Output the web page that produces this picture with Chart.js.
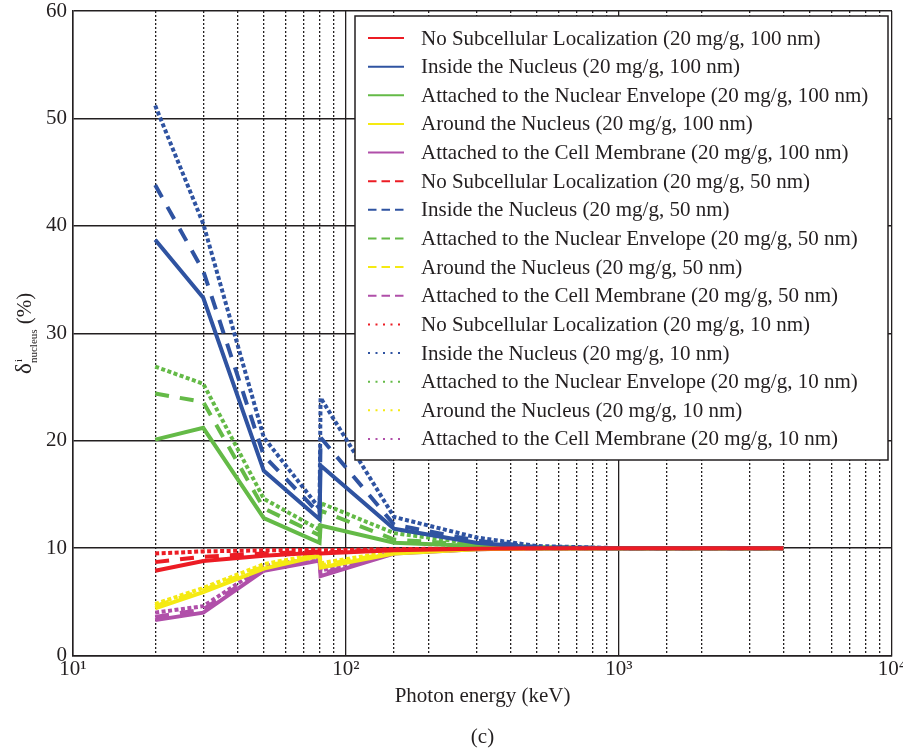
<!DOCTYPE html>
<html>
<head>
<meta charset="utf-8">
<script src="https://cdn.jsdelivr.net/npm/chart.js@4.4.0/dist/chart.umd.min.js"></script>
<style>
  html, body { margin: 0; padding: 0; background: #fff; }
  #wrap { width: 903px; height: 750px; }
</style>
</head>
<body>
<div id="wrap"><canvas id="deltaChart" width="903" height="750"></canvas></div>
<script>
// photon energies (keV); the doubled point near 80 keV is the gold K-edge
const energies = [20, 30, 50, 80, 80.7, 150, 300, 500, 1000, 4000];

const locations = [
  'No Subcellular Localization',
  'Inside the Nucleus',
  'Attached to the Nuclear Envelope',
  'Around the Nucleus',
  'Attached to the Cell Membrane'
];
const sizes = ['100 nm', '50 nm', '10 nm'];
const xTickLabels = { 10: '10¹', 100: '10²', 1000: '10³', 10000: '10⁴' };

// delta (%) per location, 100 nm particles
const noLoc100    = [7.9, 8.8, 9.3, 9.6, 9.5, 9.8, 9.95, 10, 10, 10];
const inside100   = [38.7, 33.3, 17.2, 12.7, 17.7, 11.8, 10.5, 10.05, 10, 10];
const envelope100 = [20.1, 21.2, 12.8, 10.5, 12.1, 10.5, 10.2, 10.0, 10, 10];
const around100   = [4.4, 5.9, 8.1, 9.3, 8.2, 9.5, 9.9, 10, 10, 10];
const membrane100 = [3.3, 4.0, 7.9, 8.85, 7.4, 9.5, 9.9, 10, 10, 10];

// 50 nm particles
const noLoc50    = [8.7, 9.2, 9.5, 9.7, 9.6, 9.85, 9.95, 10, 10, 10];
const inside50   = [43.8, 35.8, 18.6, 13.2, 20.3, 12.2, 10.7, 10.1, 10, 10];
const envelope50 = [24.4, 23.6, 13.7, 11.2, 13.5, 10.8, 10.3, 10.05, 10, 10];
const around50   = [4.6, 6.1, 8.3, 9.4, 8.4, 9.6, 9.9, 10, 10, 10];
const membrane50 = [3.6, 4.3, 8.1, 9.0, 7.6, 9.55, 9.9, 10, 10, 10];

// 10 nm particles
const noLoc10    = [9.5, 9.7, 9.8, 9.85, 9.8, 9.9, 10, 10, 10, 10];
const inside10   = [51.2, 40.2, 20.3, 13.7, 24.0, 12.9, 11.0, 10.2, 10, 10];
const envelope10 = [26.9, 25.3, 14.6, 11.7, 14.2, 11.4, 10.4, 10.1, 10, 10];
const around10   = [4.8, 6.3, 8.5, 9.5, 8.6, 9.7, 9.95, 10, 10, 10];
const membrane10 = [4.0, 4.6, 8.3, 9.2, 7.9, 9.6, 9.95, 10, 10, 10];

const valuesBySize = [
  [noLoc100, inside100, envelope100, around100, membrane100],
  [noLoc50, inside50, envelope50, around50, membrane50],
  [noLoc10, inside10, envelope10, around10, membrane10]
];

const locationColors = ['#ec1c24', '#2f53a1', '#64ba47', '#f5ea12', '#b04fa9'];
const lineStyles = [
  { dash: [], legendDash: [] },
  { dash: [14, 11], legendDash: [8.5, 5] },
  { dash: [4, 2.5], legendDash: [2, 5.5] }
];

const textColor = '#231f20';
const serif = '"Liberation Serif", "Times New Roman", serif';

const datasets = [];
sizes.forEach((size, s) => {
  locations.forEach((loc, l) => {
    datasets.push({
      label: loc + ' (20 mg/g, ' + size + ')',
      data: valuesBySize[s][l].map((y, i) => ({ x: energies[i], y: y })),
      borderColor: locationColors[l],
      backgroundColor: locationColors[l],
      borderWidth: 4,
      borderDash: lineStyles[s].dash,
      legendDash: lineStyles[s].legendDash,
      pointRadius: 0,
      tension: 0,
      fill: false
    });
  });
});

function isDecade(v) {
  const l = Math.log10(v);
  return Math.abs(l - Math.round(l)) < 1e-9;
}

// boxed legend in the upper right of the plot
const legendBox = {
  id: 'legendBox',
  afterDatasetsDraw(chart) {
    const { ctx, chartArea } = chart;
    const x0 = chartArea.left + 282, y0 = chartArea.top + 5;
    const w = chartArea.right - 4 - x0, h = 444;
    ctx.save();
    ctx.fillStyle = '#fff';
    ctx.fillRect(x0, y0, w, h);
    ctx.strokeStyle = textColor;
    ctx.lineWidth = 1.5;
    ctx.strokeRect(x0, y0, w, h);
    ctx.font = '21px ' + serif;
    ctx.textBaseline = 'middle';
    chart.data.datasets.forEach((ds, i) => {
      const y = y0 + 22 + i * 28.64;
      ctx.beginPath();
      ctx.setLineDash(ds.legendDash);
      ctx.strokeStyle = ds.borderColor;
      ctx.lineWidth = 2;
      ctx.moveTo(x0 + 13, y);
      ctx.lineTo(x0 + 49, y);
      ctx.stroke();
      ctx.setLineDash([]);
      ctx.fillStyle = textColor;
      ctx.fillText(ds.label, x0 + 66, y + 1);
    });
    ctx.restore();
  }
};

// y axis title with super/subscripts, plus the panel letter
const extraText = {
  id: 'extraText',
  afterDraw(chart) {
    const { ctx, chartArea } = chart;
    const cy = (chartArea.top + chartArea.bottom) / 2;
    ctx.save();
    ctx.fillStyle = textColor;
    ctx.textBaseline = 'alphabetic';
    ctx.translate(31, cy);
    ctx.rotate(-Math.PI / 2);
    ctx.font = '23px ' + serif;
    const wd = ctx.measureText('δ').width;
    ctx.font = '11px ' + serif;
    const wsub = ctx.measureText('nucleus').width;
    ctx.font = '21px ' + serif;
    const wp = ctx.measureText(' (%)').width;
    let x = -(wd + wsub + wp) / 2;
    ctx.font = '23px ' + serif;
    ctx.fillText('δ', x, 0);
    x += wd;
    ctx.font = '11px ' + serif;
    ctx.fillText('i', x + 1, -9);
    ctx.fillText('nucleus', x, 6);
    x += wsub;
    ctx.font = '21px ' + serif;
    ctx.fillText(' (%)', x, 0);
    ctx.restore();

    ctx.save();
    ctx.fillStyle = textColor;
    ctx.font = '21px ' + serif;
    ctx.textAlign = 'center';
    ctx.textBaseline = 'middle';
    ctx.fillText('(c)', (chartArea.left + chartArea.right) / 2, 737);
    ctx.restore();
  }
};

const ctx = document.getElementById('deltaChart').getContext('2d');
const deltaChart = new Chart(ctx, {
  type: 'line',
  data: { datasets: datasets },
  options: {
    responsive: false,
    animation: false,
    devicePixelRatio: 1,
    layout: { padding: { left: 0, top: 11, right: 11, bottom: 35 } },
    plugins: {
      legend: { display: false },
      tooltip: { enabled: false }
    },
    scales: {
      x: {
        type: 'logarithmic',
        min: 10,
        max: 10000,
        afterFit(scale) { scale.paddingRight = 0; },
        grid: {
          color: textColor,
          lineWidth: 1.3,
          drawTicks: false
        },
        border: {
          display: true,
          color: textColor,
          width: 1.5,
          dash: (c) => (c.tick && !isDecade(c.tick.value) ? [2, 2] : [])
        },
        ticks: {
          autoSkip: false,
          maxRotation: 0,
          padding: 1,
          color: textColor,
          font: { family: serif, size: 21 },
          callback: (v) => xTickLabels[Math.round(v)] && isDecade(v) ? xTickLabels[Math.round(v)] : ''
        },
        title: {
          display: true,
          text: 'Photon energy (keV)',
          color: textColor,
          font: { family: serif, size: 21 },
          padding: { top: 1, bottom: 6 }
        }
      },
      y: {
        min: 0,
        max: 60,
        afterFit(scale) {
          scale.width = 73;
          scale.paddingTop = 0;
          scale.paddingBottom = 0;
        },
        grid: {
          color: textColor,
          lineWidth: 1.4,
          drawTicks: false
        },
        border: { display: true, color: textColor, width: 1.5 },
        ticks: {
          stepSize: 10,
          padding: 6,
          color: textColor,
          font: { family: serif, size: 21 }
        }
      }
    }
  },
  plugins: [legendBox, extraText]
});
</script>
</body>
</html>
